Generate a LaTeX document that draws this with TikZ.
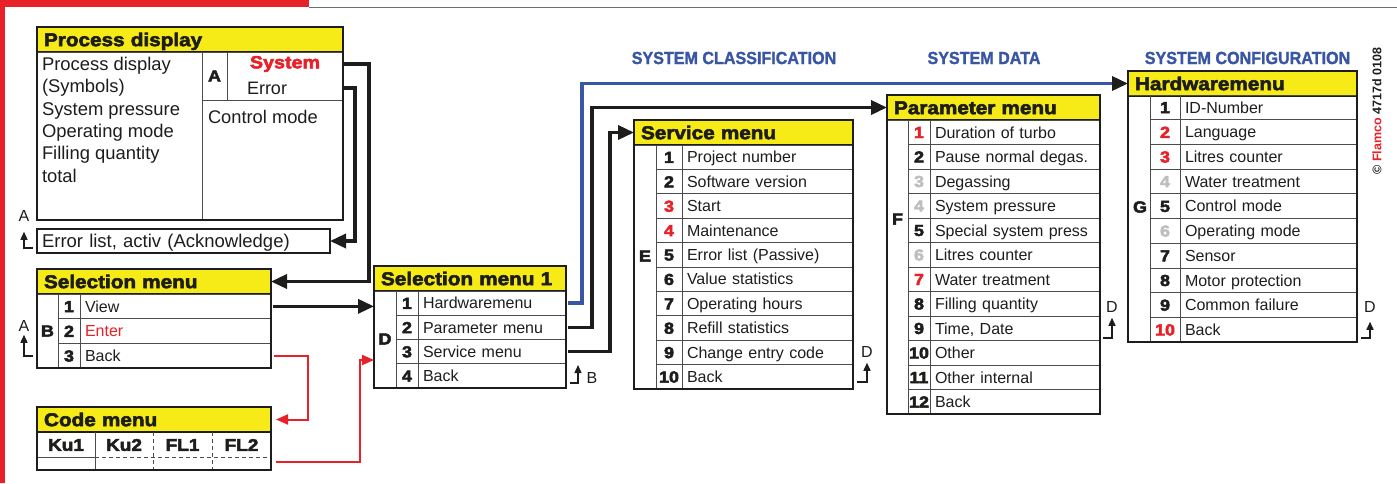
\documentclass[tikz,border=0pt]{standalone}
\usepackage{fontspec}
\usepackage{tikz}
\usetikzlibrary{positioning,arrows.meta}
\setmainfont{Liberation Sans}
\newfontfamily\heavyfont[FakeStretch=1.12,FakeBold=3]{Liberation Sans Bold}
\newfontfamily\narrowfont[FakeStretch=0.92,FakeBold=1.5]{Liberation Sans Bold}
\newfontfamily\boldfont{Liberation Sans Bold}
\definecolor{colortitle}  {RGB}{246,235,22}
\definecolor{colortext}   {RGB}{29 ,29 ,27 }
\definecolor{colorred}    {RGB}{232,32 ,39 }
\definecolor{colorblue}   {RGB}{57 ,86 ,165}
\definecolor{colorgrey}   {RGB}{190,190,190}
\definecolor{colorrule}   {RGB}{110,110,110}

\begin{document}
\begin{tikzpicture}[
    x=1pt, y=-1pt,
    font={\fontsize{16}{19}\selectfont},
    every node/.style={text=colortext,outer sep=0pt},
    menutitle/.style={anchor=north west,fill=colortitle,draw=colortext,line width=1.2pt,
        font={\fontsize{18.5}{20}\heavyfont},align=left,inner xsep=7pt,inner ysep=0pt,
        minimum height=25pt,text height=13.3pt,text depth=0pt},
    cell/.style={draw=black!70,line width=0.8pt,inner sep=0pt},
    lettercol/.style={cell,anchor=north west},
    letter/.style={font={\fontsize{16}{19}\heavyfont}},
    numcell/.style={cell,anchor=north west,font={\fontsize{16}{19}\heavyfont},text height=11.5pt,text depth=0pt},
    itemcell/.style={cell,align=left,inner xsep=5pt,text height=11.5pt,text depth=0pt},
    frame/.style={draw=colortext,line width=2pt},
    conn/.style={draw=colortext,line width=3.5pt,-{Triangle[length=16pt,width=14pt]}},
    blueconn/.style={conn,draw=colorblue,-{Triangle[length=16pt,width=14pt,color=colortext]}},
    redconn/.style={draw=colorred,line width=2pt,-{Triangle[length=12pt,width=10pt]}},
    backarrow/.style={draw=colortext,line width=1.4pt,-{Triangle[length=8pt,width=7pt]}},
    backlabel/.style={inner sep=1pt,text height=11.5pt,text depth=0pt},
    heading/.style={text=colorblue,font={\fontsize{17.5}{20}\narrowfont}},
]
    \useasboundingbox (0,0) rectangle (1397,483);

    % Page frame
    \fill[colorred] (0,0) rectangle (309,7);
    \fill[colorred] (0,0) rectangle (5,483);
    \draw[colorrule,line width=1.8pt] (309,7.5) -- (1397,7.5);

    % Headings
    \node[heading] (hdclass) at (734,58)    {SYSTEM CLASSIFICATION};
    \node[heading] (hddata)  at (984,58)    {SYSTEM DATA};
    \node[heading] (hdconf)  at (1247.5,58) {SYSTEM CONFIGURATION};
    \node[rotate=90,font={\fontsize{12.5}{14}\boldfont}] (copyright) at (1377,111)
        {\textcopyright\ \textcolor{colorred}{Flamco} 4717d 0108};

    % Process display
    \node[menutitle,text width=292pt] (proctitle) at (37,27) {Process display};
    \node[cell,anchor=north west,minimum width=165pt,minimum height=168pt] (procleft) at (37,52) {};
    \node[cell,anchor=north west,minimum width=141pt,minimum height=48pt] (procright) at (202,52) {};
    \node[cell,letter,anchor=north west,minimum width=25pt,minimum height=48pt] (procA) at (202,52) {A};
    \node[text=colorred,font={\fontsize{17.6}{20}\heavyfont},minimum width=116pt] (procsys) at (285,64) {System};
    \node[align=left,text width=76pt,inner xsep=20pt,font={\fontsize{18}{20}\selectfont}] (procerr) at (285,88) {Error};
    \node[anchor=north west,align=left,inner sep=0pt,font={\fontsize{18.4}{22.4}\selectfont}] (proctext) at (42,57)
        {Process display\\(Symbols)\\System pressure\\Operating mode\\Filling quantity\\total};
    \node[anchor=west,inner sep=0pt,font={\fontsize{18.3}{20}\selectfont}] (procctrl) at (208,117) {Control mode};
    \draw[frame] (proctitle.north west) rectangle (procleft.south -| proctitle.east);

    \node[anchor=north west,draw=colortext,line width=1.8pt,minimum height=24pt,text width=283pt,inner xsep=5pt,
        align=left,font={\fontsize{18.5}{20}\selectfont},text height=13pt,text depth=0pt] (errlist) at (37,229)
        {Error list, activ (Acknowledge)};

    % Selection menu
    \node[menutitle,text width=220pt] (selmtitle) at (37,269) {Selection menu};
    \node[lettercol,minimum width=21pt,minimum height=74pt] (selmcol) at (37,294) {};
    \node[letter] (selmlet) at (47.5,331) {B};
    \foreach \num/\txt/\col [count=\i] in {1/View/colortext,2/Enter/colorred,3/Back/colortext}{
        \node[numcell,minimum width=22pt,minimum height=24.7pt] (selmnum\i) at (58,{294+(\i-1)*24.7}) {\num};
        \node[itemcell,text=\col,text width=181pt,minimum height=24.7pt,right=0pt of selmnum\i] (selmitem\i) {\txt};
    }
    \draw[frame] (selmtitle.north west) rectangle (selmitem3.south east);

    % Code menu
    \node[menutitle,text width=220pt] (codetitle) at (37,407) {Code menu};
    \node[anchor=north west,minimum width=234pt,minimum height=38pt,inner sep=0pt] (codebody) at (37,432) {};
    \draw[cell] (95,432) -- (95,470) (37,457) -- (95,457);
    \draw[cell,dash pattern=on 4pt off 3pt] (153,432) -- (153,470) (212,432) -- (212,470) (95,457) -- (271,457);
    \foreach \lbl/\x [count=\i] in {Ku1/66,Ku2/124,FL1/182.5,FL2/241.5}
        \node[font={\fontsize{17}{19}\heavyfont}] (codekey\i) at (\x,445) {\lbl};
    \draw[frame] (codetitle.north west) rectangle (codebody.south east);

    % Selection menu 1
    \node[menutitle,text width=178pt] (sm1title) at (374,266) {Selection menu 1};
    \node[lettercol,minimum width=22pt,minimum height=97pt] (sm1col) at (374,291) {};
    \node[letter] (sm1let) at (385,339) {D};
    \foreach \num/\txt [count=\i] in {1/Hardwaremenu,2/Parameter menu,3/Service menu,4/Back}{
        \node[numcell,minimum width=22pt,minimum height=24.25pt] (sm1num\i) at (396,{291+(\i-1)*24.25}) {\num};
        \node[itemcell,text width=138pt,minimum height=24.25pt,right=0pt of sm1num\i] (sm1item\i) {\txt};
    }
    \draw[frame] (sm1title.north west) rectangle (sm1item4.south east);

    % Service menu
    \node[menutitle,text width=205pt] (srvtitle) at (634,120) {Service menu};
    \node[lettercol,minimum width=22pt,minimum height=244pt] (srvcol) at (634,145) {};
    \node[letter] (srvlet) at (645,256) {E};
    \foreach \num/\txt/\col [count=\i] in {1/Project number/colortext,2/Software version/colortext,
            3/Start/colorred,4/Maintenance/colorred,5/Error list (Passive)/colortext,6/Value statistics/colortext,
            7/Operating hours/colortext,8/Refill statistics/colortext,9/Change entry code/colortext,10/Back/colortext}{
        \node[numcell,text=\col,minimum width=26pt,minimum height=24.4pt] (srvnum\i) at (656,{145+(\i-1)*24.4}) {\num};
        \node[itemcell,text width=161pt,minimum height=24.4pt,right=0pt of srvnum\i] (srvitem\i) {\txt};
    }
    \draw[frame] (srvtitle.north west) rectangle (srvitem10.south east);

    % Parameter menu
    \node[menutitle,text width=199pt] (partitle) at (887,95) {Parameter menu};
    \node[lettercol,minimum width=21pt,minimum height=294pt] (parcol) at (887,120) {};
    \node[letter] (parlet) at (897.5,219) {F};
    \foreach \num/\txt/\col [count=\i] in {1/Duration of turbo/colorred,2/Pause normal degas./colortext,
            3/Degassing/colorgrey,4/System pressure/colorgrey,5/Special system press/colortext,
            6/Litres counter/colorgrey,7/Water treatment/colorred,8/Filling quantity/colortext,
            9/{Time, Date}/colortext,10/Other/colortext,11/Other internal/colortext,12/Back/colortext}{
        \node[numcell,text=\col,minimum width=22pt,minimum height=24.5pt] (parnum\i) at (908,{120+(\i-1)*24.5}) {\num};
        \node[itemcell,text width=160pt,minimum height=24.5pt,right=0pt of parnum\i] (paritem\i) {\txt};
    }
    \draw[frame] (partitle.north west) rectangle (paritem12.south east);

    % Hardwaremenu
    \node[menutitle,text width=215pt] (hwtitle) at (1128,71) {Hardwaremenu};
    \node[lettercol,minimum width=22pt,minimum height=247pt] (hwcol) at (1128,95) {};
    \node[letter] (hwlet) at (1140,207) {G};
    \foreach \num/\txt/\col [count=\i] in {1/ID-Number/colortext,2/Language/colorred,3/Litres counter/colorred,
            4/Water treatment/colorgrey,5/Control mode/colortext,6/Operating mode/colorgrey,7/Sensor/colortext,
            8/Motor protection/colortext,9/Common failure/colortext,10/Back/colorred}{
        \node[numcell,text=\col,minimum width=30pt,minimum height=24.7pt] (hwnum\i) at (1150,{95+(\i-1)*24.7}) {\num};
        \node[itemcell,text width=167pt,minimum height=24.7pt,right=0pt of hwnum\i] (hwitem\i) {\txt};
    }
    \draw[frame] (hwtitle.north west) rectangle (hwitem10.south east);

    % Links between the menus
    \draw[conn] (procsys.east) -- ++(26,0) |- (selmtitle.east);
    \draw[conn] (procerr.east) -- ++(12,0) |- (errlist.east);
    \draw[conn] ([xshift=2pt]selmitem1.east) -- (sm1col.west |- selmitem1.east);
    \draw[redconn,shorten >=5pt] ([xshift=3pt]selmitem3.east) -- ++(34,0) |- (codetitle.east);
    \draw[redconn] ([xshift=5pt,yshift=8pt]codebody.south east) -- ++(84,0) |- ([yshift=-20.5pt]sm1col.west);
    \draw[blueconn] ([xshift=2pt]sm1item1.east) -- ++(14,0) |- (hwtitle.west);
    \draw[conn] ([xshift=2pt]sm1item2.east) -- ++(24,0) |- (partitle.west);
    \draw[conn] ([xshift=2pt]sm1item3.east) -- ++(42,0) |- (srvtitle.west);

    % Back links
    \node[backlabel] (errA) at (24,216) {A};
    \coordinate (errback) at (33,248);
    \draw[backarrow,shorten >=9pt] (errback) -| (errA);
    \node[backlabel] (selmA) at (24,326) {A};
    \coordinate (selmback) at (33,356);
    \draw[backarrow,shorten >=2pt] (selmback) -| (selmA);
    \node[backlabel] (sm1B) at (592,378) {B};
    \coordinate (sm1back) at (570,383);
    \coordinate (sm1up) at (578,365);
    \draw[backarrow] (sm1back) -| (sm1up);
    \node[backlabel] (srvD) at (867,352) {D};
    \coordinate (srvback) at (857,382);
    \draw[backarrow,shorten >=4pt] (srvback) -| (srvD);
    \node[backlabel] (parD) at (1112,307) {D};
    \coordinate (parback) at (1103,338);
    \draw[backarrow,shorten >=4pt] (parback) -| (parD);
    \node[backlabel] (hwD) at (1370,307) {D};
    \coordinate (hwback) at (1361,338);
    \draw[backarrow,shorten >=8pt] (hwback) -| (hwD);

\end{tikzpicture}
\end{document}
